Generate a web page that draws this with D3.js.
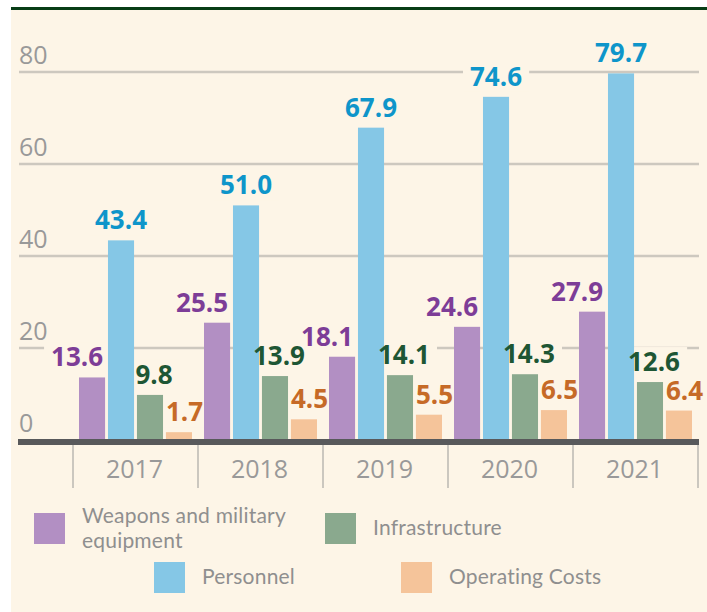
<!DOCTYPE html>
<html>
<head>
<meta charset="utf-8">
<script src="https://cdn.jsdelivr.net/npm/d3@7"></script>
<style>
  html, body { margin: 0; padding: 0; background: #ffffff; }
  svg { display: block; }
</style>
</head>
<body>
<svg id="chart" width="707" height="612"></svg>
<script>
const years = ['2017', '2018', '2019', '2020', '2021'];
const seriesNames = ['Weapons and military equipment', 'Personnel', 'Infrastructure', 'Operating Costs'];
const weapons = [13.6, 25.5, 18.1, 24.6, 27.9];
const personnel = [43.4, 51.0, 67.9, 74.6, 79.7];
const infrastructure = [9.8, 13.9, 14.1, 14.3, 12.6];
const operating = [1.7, 4.5, 5.5, 6.5, 6.4];
const yTicks = [0, 20, 40, 60, 80];

const barColors = ['#b28fc3', '#85c7e6', '#8aa98e', '#f5c49a'];
const labelColors = ['#7d3d97', '#0e95ca', '#1e5634', '#c66a27'];
const seriesValues = [weapons, personnel, infrastructure, operating];

const svg = d3.select('#chart');
const W = 707, H = 612;

// background panel + top rule
svg.append('rect').attr('x', 11).attr('y', 9).attr('width', W - 11).attr('height', H - 9).attr('fill', '#fdf5e7');
svg.append('rect').attr('x', 11).attr('y', 7).attr('width', W - 11).attr('height', 3).attr('fill', '#073d16');

const x0 = d3.scaleBand().domain(years).range([73, 698]).padding(0);
const x1 = d3.scaleBand().domain(seriesNames).range([6, 119]).paddingInner(0.1);
const y = d3.scaleLinear().domain([0, 80]).range([440, 72]);

// gridlines
const grid = svg.append('g');
grid.selectAll('line').data(yTicks.filter(d => d > 0)).join('line')
  .attr('x1', 19).attr('x2', 699)
  .attr('y1', d => y(d)).attr('y2', d => y(d))
  .attr('stroke', '#cdc8bf').attr('stroke-width', 2.5);

svg.append('g').selectAll('text').data(yTicks).join('text')
  .attr('x', 19).attr('y', d => y(d) - 8)
  .attr('font-family', 'Open Sans, sans-serif').attr('font-size', 25)
  .attr('fill', '#999999')
  .text(d => d);

// flatten data
const cells = [];
years.forEach((yr, i) => {
  seriesNames.forEach((s, j) => {
    cells.push({ year: yr, series: s, j: j, value: seriesValues[j][i] });
  });
});

const maskLayer = svg.append('g');
const barLayer = svg.append('g');
const labelLayer = svg.append('g');

barLayer.selectAll('rect').data(cells).join('rect')
  .attr('x', d => x0(d.year) + x1(d.series))
  .attr('y', d => y(d.value))
  .attr('width', x1.bandwidth())
  .attr('height', d => y(0) - y(d.value))
  .attr('fill', d => barColors[d.j]);

function labelX(d) {
  const left = x0(d.year) + x1(d.series);
  const bw = x1.bandwidth();
  if (d.j === 0) return left + bw - 2;
  if (d.j === 1) return left + bw / 2;
  if (d.j === 2) return left + bw / 2 + 4;
  return left;
}
function labelAnchor(d) {
  return d.j === 0 ? 'end' : (d.j === 3 ? 'start' : 'middle');
}

const labels = labelLayer.selectAll('text').data(cells).join('text')
  .attr('x', labelX)
  .attr('y', d => y(d.value) - 11)
  .attr('text-anchor', labelAnchor)
  .attr('font-family', 'Open Sans, sans-serif').attr('font-weight', 700).attr('font-size', 26)
  .attr('fill', d => labelColors[d.j])
  .text(d => d.value.toFixed(1));

// knock out gridlines behind labels
labels.each(function () {
  const b = this.getBBox();
  maskLayer.append('rect')
    .attr('x', b.x - 7).attr('y', b.y + 4)
    .attr('width', b.width + 14).attr('height', b.height - 6)
    .attr('fill', '#fdf5e7');
});

// x axis
svg.append('line').attr('x1', 18).attr('x2', 699).attr('y1', 442).attr('y2', 442)
  .attr('stroke', '#58595b').attr('stroke-width', 6);

const seps = years.map(d => x0(d)).concat([x0.range()[1]]);
svg.append('g').selectAll('line').data(seps).join('line')
  .attr('x1', d => d).attr('x2', d => d).attr('y1', 445).attr('y2', 488)
  .attr('stroke', '#cbc7bf').attr('stroke-width', 2);

svg.append('g').selectAll('text').data(years).join('text')
  .attr('x', d => x0(d) + x0.bandwidth() / 2 - 1)
  .attr('y', 478)
  .attr('text-anchor', 'middle')
  .attr('font-family', 'Open Sans, sans-serif').attr('font-size', 25)
  .attr('fill', '#999999')
  .text(d => d);

// legend
const legendPos = [[34, 513], [154, 562], [325, 513], [401, 562]];
const legendLines = [['Weapons and military', 'equipment'], ['Personnel'], ['Infrastructure'], ['Operating Costs']];
const legend = svg.append('g');
seriesNames.forEach((s, j) => {
  const [lx, ly] = legendPos[j];
  legend.append('rect').attr('x', lx).attr('y', ly).attr('width', 31).attr('height', 31).attr('fill', barColors[j]);
  const lines = legendLines[j];
  const t = legend.append('text')
    .attr('font-family', 'Lato, sans-serif').attr('font-size', 21)
    .attr('letter-spacing', 0.2)
    .attr('fill', '#8f8f8f');
  lines.forEach((ln, k) => {
    const base = lines.length === 1 ? ly + 22 : ly + 10 + k * 25;
    t.append('tspan').attr('x', lx + 48).attr('y', base).text(ln);
  });
});
</script>
</body>
</html>
